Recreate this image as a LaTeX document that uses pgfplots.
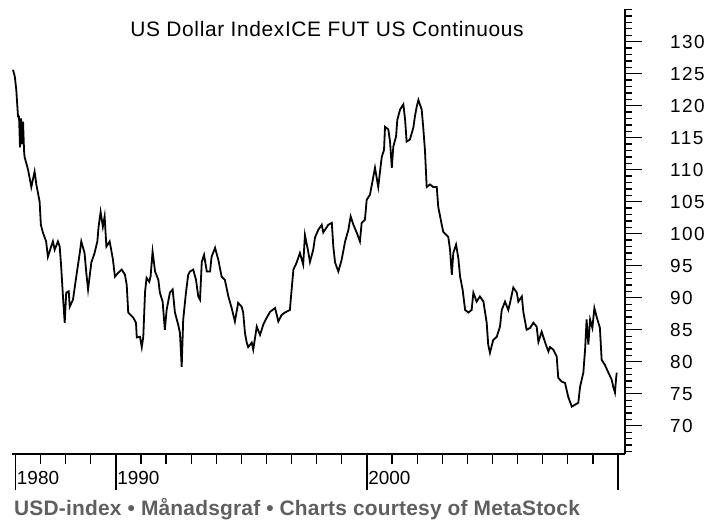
\documentclass[border=0pt]{standalone}
\usepackage{fontspec}
\setmainfont{Liberation Sans}
\usepackage{pgfplots}
\pgfplotsset{compat=1.18}
\definecolor{CaptionGray}{RGB}{95,95,95}

\begin{document}
\begin{tikzpicture}
\useasboundingbox (-12bp,-67bp) rectangle (702bp,454bp);

% bottom axis: yearly ticks, long ticks at the labelled years
\begin{axis}[
  at={(0,0)}, anchor=south west, scale only axis,
  width=613bp, height=445bp,
  xmin=1985.86, xmax=2010.28, ymin=0, ymax=1,
  axis x line=bottom, axis y line=none, ytick=\empty,
  axis line style={-, line width=1.5bp},
  xtick={1986,1990,2000,2010}, xticklabels={,,,},
  minor xtick={1987,1988,...,2009},
  tick align=outside,
  major tick length=36bp, minor tick length=10bp,
  every tick/.style={black, line width=1.3bp},
  clip=false,
]
\node[anchor=west, inner sep=0pt, font=\fontsize{19}{21}\selectfont] at (axis cs:1986.05,-0.054) {1980};
\node[anchor=west, inner sep=0pt, font=\fontsize{19}{21}\selectfont] at (axis cs:1990.05,-0.054) {1990};
\node[anchor=west, inner sep=0pt, font=\fontsize{19}{21}\selectfont] at (axis cs:2000.05,-0.054) {2000};
\end{axis}

% price line and right value axis
\begin{axis}[
  at={(0,0)}, anchor=south west, scale only axis,
  width=613bp, height=445bp,
  xmin=1985.86, xmax=2010.28, ymin=65.6, ymax=135.1,
  axis x line=none, axis y line=right,
  axis line style={-, line width=1.5bp},
  xtick=\empty,
  ytick={70,75,...,130},
  minor ytick={66,67,...,135},
  tick align=outside,
  major tick length=17bp, minor tick length=7bp,
  every tick/.style={black, line width=1.3bp},
  yticklabel style={anchor=west, xshift=28bp, inner sep=0pt},
  /pgf/number format/assume math mode=true,
  tick label style={font=\fontsize{19}{21}\selectfont\addfontfeatures{LetterSpace=8}},
]
\addplot[black, line width=1.8bp, line join=miter] coordinates {
(1985.90,125.6)(1985.97,124.6)(1986.03,122.5)(1986.10,118.3)
(1986.14,118.3)(1986.18,113.5)(1986.22,118.0)(1986.26,114.0)(1986.30,117.5)(1986.34,113.0)
(1986.36,112.0)(1986.50,110.0)(1986.63,107.3)(1986.76,109.7)(1986.83,107.7)(1986.96,105.0)
(1987.01,101.4)(1987.09,100.2)(1987.22,98.8)(1987.29,96.4)(1987.42,98.0)(1987.49,98.8)
(1987.56,97.5)(1987.69,98.8)(1987.76,98.0)(1987.82,94.8)(1987.89,90.2)(1987.96,86.1)
(1988.02,90.8)(1988.12,91.0)(1988.16,88.6)(1988.29,89.7)(1988.42,93.3)(1988.56,97.0)
(1988.62,98.8)(1988.75,97.0)(1988.82,93.9)(1988.89,91.3)(1989.02,95.5)(1989.15,97.0)
(1989.26,98.8)(1989.31,101.1)(1989.39,103.4)(1989.48,101.1)(1989.55,102.7)(1989.62,98.0)
(1989.75,98.8)(1989.88,96.0)(1989.96,93.3)(1990.09,93.9)(1990.23,94.4)(1990.36,93.6)
(1990.43,92.0)(1990.49,87.7)(1990.69,86.9)(1990.80,86.1)(1990.83,83.8)(1990.96,83.9)
(1991.03,82.3)(1991.09,83.9)(1991.16,90.9)(1991.22,93.1)(1991.33,92.5)(1991.38,93.3)
(1991.46,97.2)(1991.56,94.1)(1991.69,92.8)(1991.75,90.8)(1991.86,89.4)(1991.95,85.0)
(1992.02,88.1)(1992.15,90.8)(1992.26,91.3)(1992.35,87.7)(1992.48,85.8)(1992.55,84.5)
(1992.62,79.2)(1992.68,86.6)(1992.79,90.8)(1992.88,93.6)(1992.95,94.1)(1993.08,94.4)
(1993.19,92.8)(1993.28,90.2)(1993.35,89.7)(1993.42,95.6)(1993.51,96.7)(1993.62,94.1)
(1993.75,94.1)(1993.81,96.4)(1993.95,97.8)(1994.08,95.9)(1994.21,93.3)(1994.34,92.8)
(1994.48,90.2)(1994.61,88.4)(1994.74,86.3)(1994.87,89.2)(1995.01,88.6)(1995.07,87.7)
(1995.14,84.5)(1995.21,83.0)(1995.27,82.3)(1995.41,83.0)(1995.47,81.9)(1995.61,85.5)
(1995.74,84.2)(1995.87,85.8)(1996.01,86.9)(1996.14,87.8)(1996.34,88.4)(1996.47,86.3)
(1996.60,87.3)(1996.73,87.7)(1996.93,88.1)(1997.00,91.3)(1997.07,94.4)(1997.20,95.5)
(1997.33,97.0)(1997.46,95.2)(1997.53,99.8)(1997.66,97.2)(1997.73,95.6)(1997.86,97.5)
(1997.93,99.4)(1998.06,100.6)(1998.20,101.4)(1998.26,100.2)(1998.46,101.4)(1998.60,101.7)
(1998.66,98.0)(1998.73,95.5)(1998.86,94.1)(1998.99,95.9)(1999.13,98.8)(1999.26,100.6)
(1999.35,102.7)(1999.46,101.4)(1999.59,100.2)(1999.72,98.8)(1999.79,101.7)(1999.92,102.2)
(1999.99,105.3)(2000.12,106.1)(2000.25,108.8)(2000.32,110.3)(2000.45,107.3)(2000.52,109.7)
(2000.59,112.0)(2000.68,113.1)(2000.72,116.7)(2000.85,116.3)(2000.92,114.4)(2000.99,110.3)
(2001.05,113.6)(2001.16,115.2)(2001.21,117.8)(2001.32,119.4)(2001.45,120.2)(2001.52,117.8)
(2001.58,114.4)(2001.71,114.7)(2001.85,116.6)(2001.91,118.3)(2001.98,119.8)(2002.05,120.9)
(2002.18,119.4)(2002.24,116.7)(2002.31,113.1)(2002.38,107.3)(2002.51,107.7)(2002.64,107.3)
(2002.78,107.3)(2002.84,104.2)(2002.98,101.4)(2003.04,100.3)(2003.24,99.5)(2003.31,97.5)
(2003.38,93.6)(2003.44,97.0)(2003.55,98.3)(2003.64,96.2)(2003.71,93.3)(2003.81,91.3)
(2003.91,88.1)(2004.04,87.7)(2004.17,88.1)(2004.24,90.8)(2004.37,89.4)(2004.50,90.2)
(2004.64,89.4)(2004.77,86.1)(2004.83,82.7)(2004.90,81.4)(2005.03,83.4)(2005.17,83.9)
(2005.30,85.5)(2005.37,88.1)(2005.50,89.4)(2005.63,88.1)(2005.70,89.2)(2005.83,91.6)
(2005.97,90.8)(2006.03,89.4)(2006.17,90.2)(2006.23,87.8)(2006.36,85.0)(2006.50,85.3)
(2006.63,86.1)(2006.76,85.5)(2006.83,83.1)(2006.96,84.7)(2007.09,83.1)(2007.23,81.6)
(2007.29,82.3)(2007.42,81.9)(2007.56,80.8)(2007.62,77.5)(2007.76,76.9)(2007.89,76.7)
(2008.02,74.5)(2008.16,73.0)(2008.29,73.3)(2008.42,73.6)(2008.49,76.1)(2008.62,78.3)
(2008.69,81.9)(2008.75,86.6)(2008.82,82.7)(2008.89,86.6)(2008.98,85.3)(2009.06,88.4)
(2009.15,87.0)(2009.28,85.3)(2009.35,80.3)(2009.48,79.5)(2009.62,78.3)(2009.75,77.2)
(2009.81,76.1)(2009.88,75.2)(2009.92,77.2)(2009.95,78.3)
};
\end{axis}

\node[font=\fontsize{21}{23}\selectfont\addfontfeatures{LetterSpace=3}] at (315bp,425bp) {US Dollar IndexICE FUT US Continuous};
\node[anchor=west, inner sep=0pt, text=CaptionGray, font=\bfseries\fontsize{21}{23}\selectfont\addfontfeatures{LetterSpace=1}] at (2bp,-55bp) {USD-index • Månadsgraf • Charts courtesy of MetaStock};
\end{tikzpicture}
\end{document}
